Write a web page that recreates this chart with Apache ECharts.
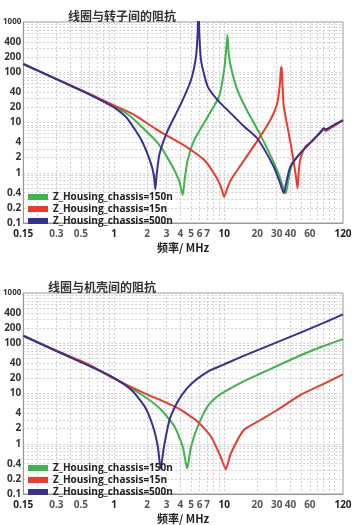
<!DOCTYPE html>
<html><head><meta charset="utf-8">
<script src="https://cdn.jsdelivr.net/npm/echarts@6/dist/echarts.min.js"></script>
<style>html,body{margin:0;padding:0;background:#fff}#c{width:357px;height:525px}</style>
</head><body><div id="c"></div>
<script>
const titles = ['线圈与转子间的阻抗', '线圈与机壳间的阻抗'];
const seriesNames = ['Z_Housing_chassis=150n', 'Z_Housing_chassis=15n', 'Z_Housing_chassis=500n'];
const xAxisName = '频率/ MHz';
const xTickLabels = [0.15, 0.3, 0.5, 1, 2, 3, 4, 5, 6, 7, 10, 20, 30, 40, 60, 120];
const yTickLabels = [0.1, 0.2, 0.4, 1, 2, 4, 10, 20, 40, 100, 200, 400, 1000];
const xGridValues = [0.2,0.3,0.4,0.5,0.6,0.7,0.8,0.9,1,2,3,4,5,6,7,8,9,10,20,30,40,50,60,70,80,90,100];
const yGridValues = [0.1,0.2,0.3,0.4,0.5,0.6,0.7,0.8,0.9,1,2,3,4,5,6,7,8,9,10,20,30,40,50,60,70,80,90,100,200,300,400,500,600,700,800,900,1000];

// Chart 1: coil to rotor
const rotorGreenFreq = [0.15, 0.3, 0.6, 1.0, 1.4, 1.77, 2.5, 3.3, 3.9, 4.2, 4.4, 4.67, 5.36, 7.09, 9.0, 10.0, 10.45, 10.7, 10.95, 11.5, 13.2, 16, 21.4, 30.3, 33.5, 36.3, 39, 42, 49, 64, 75, 80, 84, 90, 100, 120];
const rotorGreenZ    = [146, 73, 36.5, 21, 13.5, 8.3, 3.9, 1.5, 0.7, 0.36, 0.8, 1.8, 4.5, 13, 33, 111, 300, 550, 260, 129, 44, 18, 5.6, 1.13, 0.6, 0.39, 0.9, 1.6, 2.4, 4.5, 6.4, 7.6, 7.2, 7.7, 8.8, 11.1];
const rotorRedFreq   = [0.15, 0.3, 0.6, 1.0, 1.5, 2.5, 3.8, 5.0, 6.6, 8.1, 9.3, 10.0, 10.7, 11.5, 14.1, 20, 26.3, 30.3, 32, 32.8, 33.3, 33.8, 34.8, 38.6, 42.6, 45, 46.4, 47.5, 49, 54.6, 64, 75, 80, 84, 90, 100, 120];
const rotorRedZ      = [146, 73, 37, 22, 14.5, 7.0, 4.15, 2.84, 1.79, 0.97, 0.55, 0.33, 0.5, 0.72, 1.4, 4.3, 11.2, 24, 55, 118, 128, 60, 20.6, 6.1, 1.79, 0.8, 0.49, 1.0, 1.79, 3.3, 4.4, 6.3, 7.3, 6.8, 7.5, 8.6, 11];
const rotorBlueFreq  = [0.15, 0.3, 0.6, 1.0, 1.3, 1.77, 2.11, 2.3, 2.37, 2.45, 2.59, 3.09, 4.07, 5.0, 5.55, 5.75, 5.85, 5.95, 6.16, 7.09, 8.72, 11.5, 15, 20, 28.2, 32, 34.8, 37, 39.9, 49, 64.4, 75, 80, 84, 90, 100, 120];
const rotorBlueZ     = [146, 73, 36, 20, 12.5, 4.5, 1.8, 0.9, 0.47, 1.0, 2.4, 7.1, 24, 70, 204, 600, 2000, 600, 175, 52, 28, 15.2, 8.5, 4.8, 1.32, 0.65, 0.39, 0.7, 1.32, 2.44, 4.5, 6.5, 7.7, 7.3, 7.8, 9, 11.2];

// Chart 2: coil to housing
const housingGreenFreq = [0.15, 0.3, 0.6, 0.95, 1.9, 2.69, 3.54, 4.21, 4.61, 5.0, 5.75, 7.07, 8.7, 10.7, 15, 21.4, 49, 80, 120];
const housingGreenZ    = [141, 71, 36, 21.6, 8.6, 4.7, 2.2, 0.87, 0.32, 0.87, 2.2, 5.5, 8.8, 11.7, 17.5, 25, 57, 88, 121];
const housingRedFreq   = [0.15, 0.3, 0.6, 0.95, 1.9, 3.8, 5.75, 7.6, 9.3, 10.35, 11.5, 15.1, 21.4, 30.4, 49, 80, 120];
const housingRedZ      = [141, 71, 37, 21, 10.1, 5.1, 2.75, 1.38, 0.55, 0.31, 0.64, 1.88, 2.97, 4.7, 9.3, 15.5, 24];
const housingBlueFreq  = [0.15, 0.3, 0.6, 0.95, 1.44, 1.9, 2.26, 2.5, 2.65, 2.84, 3.19, 3.8, 4.5, 5.35, 6.3, 7.6, 10, 15, 30, 50, 80, 120];
const housingBlueZ     = [141, 70, 35, 21.6, 11.7, 5.5, 2.2, 0.87, 0.32, 0.87, 2.97, 7.0, 12, 17.5, 23, 29.4, 38, 56, 104, 165, 255, 375];

const colors = ['#3cb64a', '#ee3a2c', '#382f93'];

function zip(xs, ys) { return xs.map((x, i) => [x, ys[i]]); }
function fmt(v) { return String(+(+v).toPrecision(3)); }

const chart = echarts.init(document.getElementById('c'));
const gridBoxes = [
  { left: 21, top: 22, width: 322, height: 201 },
  { left: 22, top: 293, width: 321, height: 201 }
];
const darkX = ['0.15', '1', '10', '120'];

function xAxisFor(i) {
  return {
    type: 'log', gridIndex: i, min: 0.15, max: 120, logBase: 10,
    name: xAxisName, nameLocation: 'middle', nameGap: 19,
    nameTextStyle: { fontFamily: 'Noto Sans CJK SC', fontWeight: 'bold', fontSize: 11, color: '#222' },
    axisLine: { show: true, lineStyle: { color: '#999', width: 1 } },
    axisTick: { show: false, customValues: xGridValues },
    splitLine: { show: true, lineStyle: { color: '#cfcfcf', type: [2, 2], width: 1 } },
    axisLabel: {
      customValues: xTickLabels, margin: 6,
      formatter: v => { const s = fmt(v); return darkX.includes(s) ? '{d|' + s + '}' : '{n|' + s + '}'; },
      rich: {
        d: { fontFamily: 'Open Sans', fontWeight: 'bold', fontSize: 10, color: '#222' },
        n: { fontFamily: 'Open Sans', fontWeight: 'bold', fontSize: 10, color: '#555' }
      }
    }
  };
}
function yAxisFor(i) {
  return {
    type: 'log', gridIndex: i, min: 0.1, max: 1000, logBase: 10,
    axisLine: { show: true, lineStyle: { color: '#999', width: 1 } },
    axisTick: { show: false, customValues: yGridValues },
    splitLine: { show: true, lineStyle: { color: '#cfcfcf', type: [2, 2], width: 1 } },
    axisLabel: {
      customValues: yTickLabels, margin: 2,
      formatter: v => { const s = fmt(v); return s === '1000' ? '{s|' + s + '}' : '{n|' + s + '}'; },
      rich: {
        s: { fontFamily: 'Open Sans', fontWeight: 'bold', fontSize: 8, color: '#333' },
        n: { fontFamily: 'Open Sans', fontWeight: 'bold', fontSize: 10, color: '#333' }
      }
    }
  };
}
function lineSeries(name, data, i, color) {
  return {
    type: 'line', name: name, xAxisIndex: i, yAxisIndex: i, data: data,
    showSymbol: false, symbol: 'none', clip: true, smooth: 0.2,
    lineStyle: { color: color, width: 2 }, itemStyle: { color: color }
  };
}
function legendFor(top) {
  return { orient: 'vertical', left: 23, top: top, itemWidth: 20, itemHeight: 6, itemGap: 0, icon: 'rect',
    data: seriesNames, selectedMode: false,
    textStyle: { fontFamily: 'Open Sans', fontWeight: 'bold', fontSize: 10, color: '#222', lineHeight: 12 } };
}

const option = {
  backgroundColor: '#fff',
  animation: false,
  title: [
    { text: titles[0], left: 117, top: 5, textAlign: 'center',
      textStyle: { fontFamily: 'Noto Sans CJK SC', fontWeight: 'bold', fontSize: 12, color: '#333' } },
    { text: titles[1], left: 97, top: 276, textAlign: 'center',
      textStyle: { fontFamily: 'Noto Sans CJK SC', fontWeight: 'bold', fontSize: 12, color: '#333' } }
  ],
  legend: [legendFor(186), legendFor(457)],
  grid: gridBoxes.map(g => Object.assign({ show: true, borderColor: '#999', borderWidth: 1, backgroundColor: 'transparent' }, g)),
  xAxis: [xAxisFor(0), xAxisFor(1)],
  yAxis: [yAxisFor(0), yAxisFor(1)],
  series: [
    lineSeries(seriesNames[0], zip(rotorGreenFreq, rotorGreenZ), 0, colors[0]),
    lineSeries(seriesNames[1], zip(rotorRedFreq, rotorRedZ), 0, colors[1]),
    lineSeries(seriesNames[2], zip(rotorBlueFreq, rotorBlueZ), 0, colors[2]),
    lineSeries(seriesNames[0], zip(housingGreenFreq, housingGreenZ), 1, colors[0]),
    lineSeries(seriesNames[1], zip(housingRedFreq, housingRedZ), 1, colors[1]),
    lineSeries(seriesNames[2], zip(housingBlueFreq, housingBlueZ), 1, colors[2])
  ]
};
chart.setOption(option);
</script>
</body></html>
